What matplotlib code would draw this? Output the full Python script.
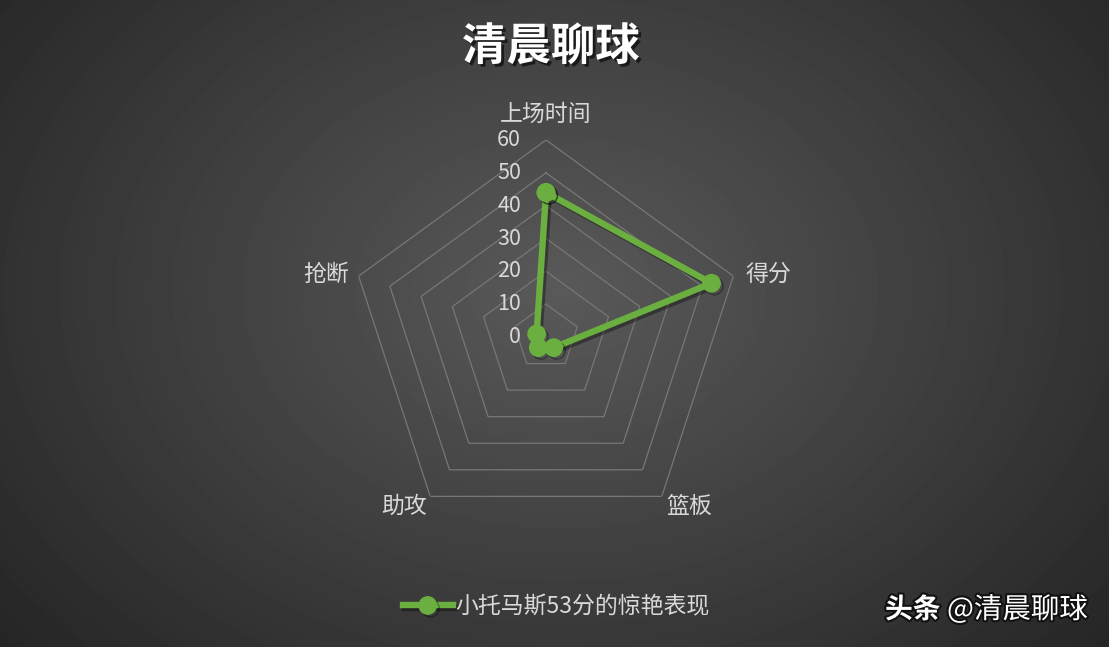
import numpy as np
import matplotlib
matplotlib.use("Agg")
import matplotlib.pyplot as plt
import matplotlib.patheffects as pe

plt.rcParams['font.family'] = ['Noto Sans CJK SC', 'DejaVu Sans']

# 数据
categories = ['上场时间', '得分', '篮板', '助攻', '抢断']
values = [44, 53, 4, 4, 3]
ring_levels = [0, 10, 20, 30, 40, 50, 60]
series_name = '小托马斯53分的惊艳表现'
title = '清晨聊球'

green = '#6aaf3f'
txt = '#d9d9d9'

fig = plt.figure(figsize=(11.09, 6.47), dpi=100)

# 背景径向渐变
bg = fig.add_axes([0, 0, 1, 1])
yy, xx = np.mgrid[0:647, 0:1109]
d = np.sqrt(((xx - 560) / 720.0) ** 2 + ((yy - 290) / 540.0) ** 2)
shade = np.clip(0.35 - 0.2 * d, 0.14, 0.35)
bg.imshow(shade, cmap='gray', vmin=0, vmax=1, aspect='auto', interpolation='bilinear')
bg.axis('off')

# 雷达图
ax = fig.add_axes([349 / 1109, 113 / 647, 394 / 1109, 394 / 647], projection='polar')
ax.patch.set_alpha(0)
ax.set_theta_offset(np.pi / 2)
ax.set_theta_direction(-1)
ax.set_ylim(0, 60)
ax.grid(False)
ax.spines['polar'].set_visible(False)
ax.set_yticks([])
ax.set_xticks([])

n = len(categories)
angles = np.arange(n) * 2 * np.pi / n
closed = np.append(angles, angles[0])

for lv in ring_levels[1:]:
    ax.plot(closed, [lv] * (n + 1), color='#777777', lw=0.9, zorder=1)

# 刻度文字
for lv in ring_levels:
    ax.annotate(str(lv), xy=(0, lv), xytext=(-25, 0), textcoords='offset pixels',
                ha='right', va='center', color=txt, fontsize=15.5)

# 分类文字
label_cfg = {
    '上场时间': (0, 26, 'center', 'center'),
    '得分': (12, 2, 'left', 'center'),
    '篮板': (5, -10, 'left', 'center'),
    '助攻': (-3, -10, 'right', 'center'),
    '抢断': (-10, 2, 'right', 'center'),
}
for ang, cat in zip(angles, categories):
    dx, dy, ha, va = label_cfg[cat]
    ax.annotate(cat, xy=(ang, 60), xytext=(dx, dy), textcoords='offset pixels',
                ha=ha, va=va, color=txt, fontsize=16.5)

vals = values + [values[0]]
shadow = [pe.SimpleLineShadow(offset=(2, -2), shadow_color='black', alpha=0.35), pe.Normal()]
ax.plot(closed, vals, color=green, lw=4.6, marker='o', markersize=12.5,
        markerfacecolor=green, markeredgecolor=green, zorder=5,
        label=series_name, path_effects=shadow)

# 标题
fig.text(551 / 1109, 1 - 47 / 647, title, ha='center', va='center', color='white',
         fontsize=32, fontweight='bold',
         path_effects=[pe.withSimplePatchShadow(offset=(2, -2), shadow_rgbFace='black', alpha=0.6)])

# 图例
leg = fig.legend(loc='center', bbox_to_anchor=(556 / 1109, 1 - 607 / 647), frameon=False,
                 fontsize=16.5, handlelength=2.2, handletextpad=0.1)
for t in leg.get_texts():
    t.set_color(txt)

# 水印
wm_fx = [pe.withStroke(linewidth=3, foreground='#111111')]
fig.text(885 / 1109, 1 - 610 / 647, '头条', ha='left', va='center', color='white',
         fontsize=20, fontweight='bold', path_effects=wm_fx)
fig.text(947 / 1109, 1 - 610 / 647, '@清晨聊球', ha='left', va='center', color='white',
         fontsize=20.5, path_effects=wm_fx)

fig.savefig('out.png', dpi=100)
